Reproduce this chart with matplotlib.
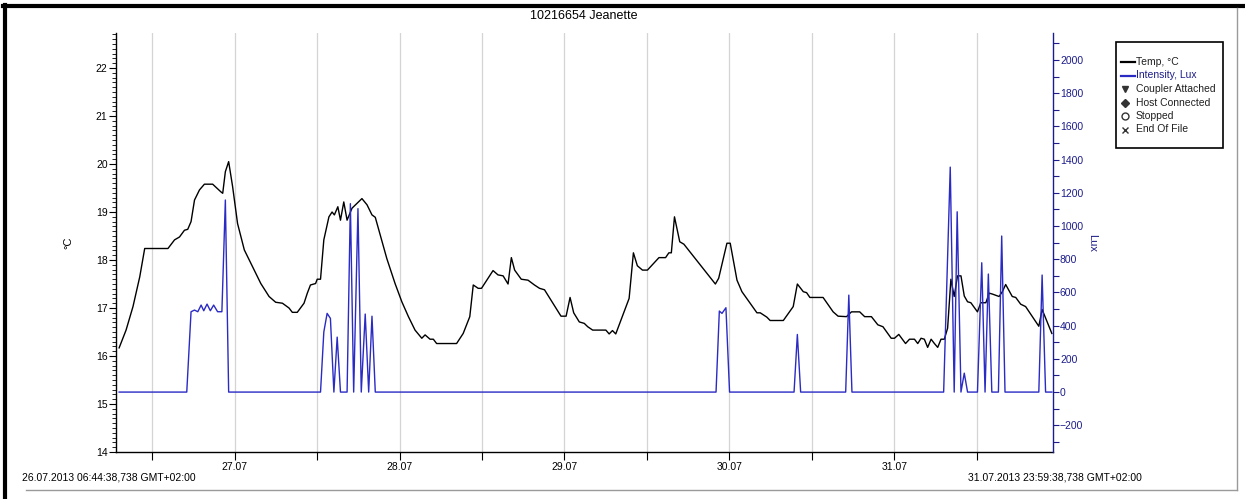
import matplotlib

matplotlib.use("Agg")
import matplotlib.pyplot as plt
from matplotlib.lines import Line2D
from matplotlib.patches import Rectangle
from matplotlib.ticker import MultipleLocator, FixedLocator, NullFormatter

plt.rcParams["font.family"] = ["Liberation Sans", "DejaVu Sans"]

# ---------------------------------------------------------------------
# Logger data (time in days of July 2013, local time)
# ---------------------------------------------------------------------
TEMP_T = [
    26.300, 26.342, 26.384, 26.425, 26.455, 26.596, 26.636, 26.666, 26.696, 26.716,
    26.736, 26.757, 26.787, 26.817, 26.867, 26.917, 26.928, 26.944, 26.964, 26.988,
    27.018, 27.059, 27.109, 27.159, 27.209, 27.249, 27.290, 27.330, 27.350, 27.380,
    27.421, 27.441, 27.460, 27.491, 27.501, 27.521, 27.541, 27.572, 27.591, 27.605,
    27.626, 27.642, 27.662, 27.682, 27.712, 27.742, 27.772, 27.803, 27.833, 27.853,
    27.893, 27.923, 27.973, 28.014, 28.054, 28.094, 28.135, 28.155, 28.185, 28.205,
    28.225, 28.346, 28.386, 28.426, 28.447, 28.477, 28.497, 28.567, 28.597, 28.628,
    28.658, 28.678, 28.698, 28.738, 28.779, 28.818, 28.849, 28.879, 28.979, 29.010,
    29.034, 29.056, 29.090, 29.120, 29.141, 29.171, 29.251, 29.271, 29.291, 29.311,
    29.392, 29.418, 29.442, 29.473, 29.503, 29.573, 29.613, 29.633, 29.648, 29.667,
    29.699, 29.724, 29.915, 29.935, 29.985, 30.005, 30.046, 30.076, 30.167, 30.187,
    30.227, 30.247, 30.327, 30.387, 30.412, 30.448, 30.468, 30.488, 30.568, 30.629,
    30.659, 30.710, 30.740, 30.790, 30.820, 30.861, 30.900, 30.931, 30.981, 31.001,
    31.027, 31.068, 31.092, 31.122, 31.142, 31.162, 31.182, 31.202, 31.223, 31.243,
    31.263, 31.283, 31.303, 31.323, 31.343, 31.363, 31.383, 31.404, 31.424, 31.444,
    31.464, 31.504, 31.524, 31.555, 31.575, 31.595, 31.635, 31.655, 31.675, 31.715,
    31.736, 31.766, 31.796, 31.876, 31.896, 31.955,
]
TEMP_C = [
    16.17, 16.54, 17.03, 17.65, 18.24, 18.24, 18.42, 18.48, 18.62, 18.64,
    18.80, 19.25, 19.46, 19.58, 19.58, 19.42, 19.39, 19.84, 20.05, 19.53,
    18.76, 18.21, 17.86, 17.51, 17.24, 17.12, 17.10, 17.00, 16.91, 16.91,
    17.10, 17.31, 17.48, 17.51, 17.60, 17.60, 18.42, 18.90, 19.00, 18.94,
    19.11, 18.83, 19.21, 18.83, 19.08, 19.18, 19.28, 19.15, 18.94, 18.89,
    18.40, 18.03, 17.51, 17.13, 16.82, 16.54, 16.37, 16.44, 16.35, 16.35,
    16.26, 16.26, 16.47, 16.82, 17.48, 17.41, 17.41, 17.78, 17.69, 17.67,
    17.50, 18.05, 17.79, 17.60, 17.58, 17.48, 17.41, 17.38, 16.83, 16.83,
    17.22, 16.90, 16.71, 16.68, 16.61, 16.54, 16.54, 16.46, 16.53, 16.46,
    17.20, 18.15, 17.88, 17.79, 17.79, 18.05, 18.05, 18.15, 18.15, 18.90,
    18.38, 18.33, 17.50, 17.62, 18.35, 18.35, 17.58, 17.34, 16.90, 16.90,
    16.81, 16.74, 16.74, 17.03, 17.50, 17.34, 17.32, 17.22, 17.22, 16.92,
    16.83, 16.82, 16.92, 16.92, 16.82, 16.82, 16.65, 16.61, 16.37, 16.37,
    16.45, 16.26, 16.35, 16.35, 16.26, 16.37, 16.35, 16.18, 16.35, 16.26,
    16.18, 16.35, 16.35, 16.58, 17.60, 17.24, 17.67, 17.67, 17.25, 17.13,
    17.11, 16.92, 17.11, 17.11, 17.31, 17.29, 17.24, 17.34, 17.49, 17.24,
    17.22, 17.08, 17.03, 16.62, 16.97, 16.47,
]
LUX_T = [
    26.300, 26.710, 26.736, 26.757, 26.777, 26.797, 26.813, 26.833, 26.853, 26.873,
    26.897, 26.923, 26.944, 26.964, 27.521, 27.541, 27.561, 27.581, 27.602, 27.622,
    27.642, 27.682, 27.702, 27.722, 27.748, 27.768, 27.792, 27.813, 27.833, 27.853,
    29.919, 29.939, 29.955, 29.979, 30.001, 30.392, 30.412, 30.432, 30.705, 30.724,
    30.743, 31.299, 31.339, 31.363, 31.381, 31.404, 31.424, 31.444, 31.504, 31.530,
    31.550, 31.570, 31.591, 31.631, 31.651, 31.671, 31.876, 31.896, 31.917, 31.955,
]
LUX = [
    0, 0, 484, 494, 484, 524, 490, 530, 490, 524,
    484, 484, 1157, 0, 0, 362, 474, 444, 0, 331,
    0, 0, 1135, 0, 1105, 0, 470, 0, 457, 0,
    0, 488, 474, 508, 0, 0, 347, 0, 0, 584,
    0, 0, 1355, 0, 1086, 0, 114, 0, 0, 779,
    0, 711, 0, 0, 940, 0, 0, 705, 0, 0,
]
DAY_TICKS = [27, 28, 29, 30, 31]
DAY_LABELS = ["27.07", "28.07", "29.07", "30.07", "31.07"]
START_LABEL = "26.07.2013 06:44:38,738 GMT+02:00"
END_LABEL = "31.07.2013 23:59:38,738 GMT+02:00"
TITLE = "10216654 Jeanette"
LEGEND_LABELS = ["Temp, °C", "Intensity, Lux", "Coupler Attached", "Host Connected",
                 "Stopped", "End Of File"]

LUX_COLOR = "#2a2ac4"
LUX_TEXT = "#1c1c8a"
TICK_FS = 7.5
W, H = 1245, 499


def fx(px):
    return px / W


def fy(py):
    return 1 - py / H


fig = plt.figure(figsize=(W / 100, H / 100), dpi=100)
ax = fig.add_axes([fx(116), fy(452), (1053 - 116) / W, (452 - 33) / H])
ax2 = ax.twinx()

# temperature on the left axis
ax.plot(TEMP_T, TEMP_C, color="black", lw=1.0, zorder=3)
ax.set_xlim(26.281, 31.962)
ax.set_ylim(14, 22.73)
ax.yaxis.set_major_locator(MultipleLocator(1))
ax.yaxis.set_minor_locator(MultipleLocator(0.1))
ax.tick_params(axis="y", which="major", length=5, width=0.8, pad=1, labelsize=TICK_FS)
ax.tick_params(axis="y", which="minor", length=3, width=0.6)
ax.set_ylabel("°C", fontsize=8, labelpad=16)

ax.xaxis.set_major_locator(FixedLocator(DAY_TICKS))
ax.set_xticklabels(DAY_LABELS)
ax.xaxis.set_minor_locator(MultipleLocator(0.5))
ax.xaxis.set_minor_formatter(NullFormatter())
ax.tick_params(axis="x", which="both", length=6, width=0.8, pad=1, labelsize=TICK_FS)
ax.grid(True, axis="x", which="both", color="#d4d4d4", lw=0.9)
ax.set_axisbelow(True)

ax.spines["top"].set_visible(False)
ax.spines["right"].set_visible(False)
for s in ("left", "bottom"):
    ax.spines[s].set_linewidth(1.0)

# light intensity on the right axis
ax2.plot(LUX_T, LUX, color=LUX_COLOR, lw=1.0, zorder=4)
ax2.set_ylim(-361, 2163)
ax2.yaxis.set_major_locator(MultipleLocator(200))
ax2.yaxis.set_minor_locator(MultipleLocator(100))
ax2.tick_params(axis="y", which="major", length=4, width=0.8, pad=1,
                labelsize=TICK_FS, colors=LUX_TEXT)
ax2.tick_params(axis="y", which="minor", length=4, width=0.8, colors=LUX_TEXT)
ax2.set_ylabel("Lux", fontsize=8, color=LUX_TEXT, rotation=270, labelpad=10)
for s in ("top", "left", "bottom"):
    ax2.spines[s].set_visible(False)
ax2.spines["right"].set_color(LUX_TEXT)
ax2.spines["right"].set_linewidth(1.0)

fig.text(fx(584), fy(16), TITLE, ha="center", va="center", fontsize=9)
fig.text(fx(22), fy(477), START_LABEL, ha="left", va="center", fontsize=TICK_FS)
fig.text(fx(1142), fy(478), END_LABEL, ha="right", va="center", fontsize=TICK_FS)

# legend box, laid out row by row
fig.add_artist(Rectangle((fx(1116), fy(148)), fx(1223) - fx(1116), fy(42) - fy(148),
                         transform=fig.transFigure, facecolor="white",
                         edgecolor="black", lw=1.2))
row_y = [62, 75.5, 89, 102.5, 116, 129.5]
handle_styles = [
    dict(color="black", lw=1.6),
    dict(color=LUX_COLOR, lw=1.6),
    dict(color="#333333", marker="v", ms=5),
    dict(color="#333333", marker="D", ms=3.8),
    dict(color="#333333", marker="o", mfc="white", ms=5),
    dict(color="#333333", marker="x", ms=5),
]
for i, (label, style) in enumerate(zip(LEGEND_LABELS, handle_styles)):
    y = fy(row_y[i])
    if "marker" in style:
        fig.add_artist(Line2D([fx(1125)], [y], ls="none", transform=fig.transFigure,
                              **style))
    else:
        fig.add_artist(Line2D([fx(1121), fx(1135)], [y, y], transform=fig.transFigure,
                              **style))
    fig.text(fx(1136), y, label, ha="left", va="center", fontsize=7.5,
             color=LUX_TEXT if i == 1 else "#202020")

# window frame around the chart
fig.add_artist(Line2D([fx(3), 1], [fy(6)] * 2, color="black", lw=3.0,
                      transform=fig.transFigure))
fig.add_artist(Line2D([fx(5)] * 2, [0, fy(5)], color="black", lw=3.0,
                      transform=fig.transFigure))
fig.add_artist(Line2D([fx(1237)] * 2, [fy(490), fy(8)], color="#9a9a9a",
                      lw=1.0, transform=fig.transFigure))
fig.add_artist(Line2D([fx(26), fx(1237)], [fy(490)] * 2, color="#9a9a9a",
                      lw=1.0, transform=fig.transFigure))

fig.savefig("out.png", dpi=100)
